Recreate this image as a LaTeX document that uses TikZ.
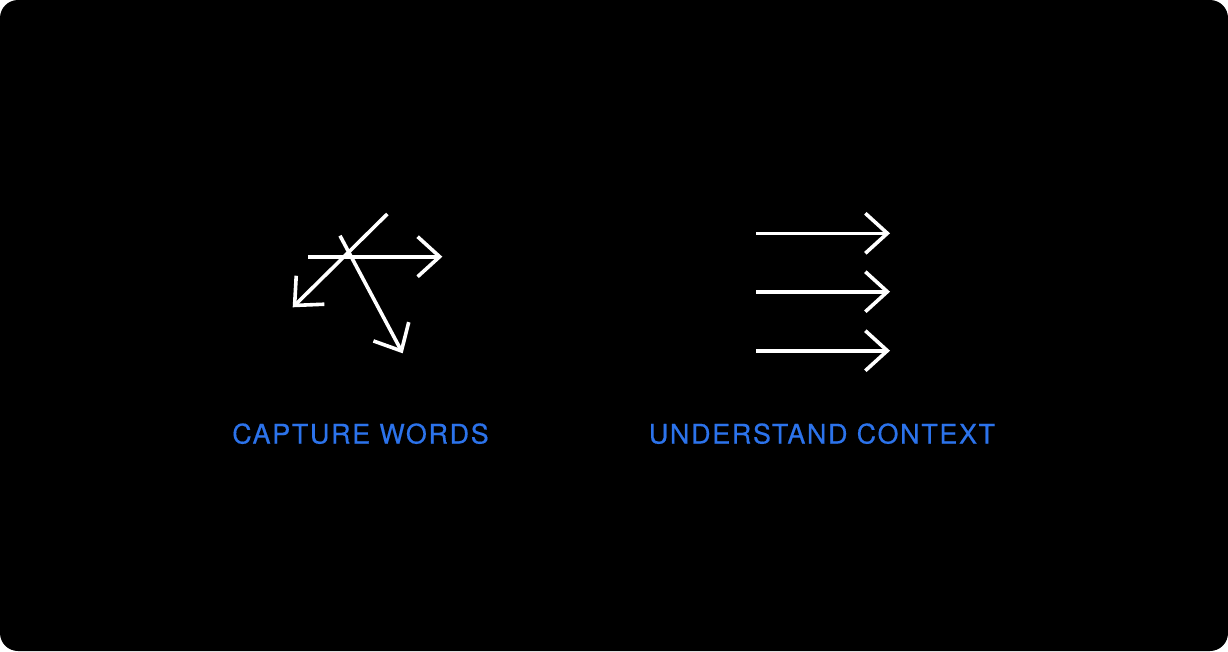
\documentclass[tikz,border=0pt]{standalone}
\usepackage{fontspec}
\setmainfont{TeX Gyre Heros}
\newfontfamily\labelfont[LetterSpace=6,FakeBold=0.4]{TeX Gyre Heros}
\usetikzlibrary{arrows.meta}
\definecolor{labelblue}{RGB}{44,115,235}
\tikzset{
  arr/.style={draw=white, line width=3.6pt, line join=miter,
    -{Straight Barb[length=22pt,width=40pt,line width=3.6pt]}},
  lbl/.style={text=labelblue, anchor=base, inner sep=0pt,
    font=\labelfont\fontsize{27pt}{30pt}\selectfont}
}
\begin{document}
\begin{tikzpicture}[x=1pt,y=-1pt]
\useasboundingbox (0,0) rectangle (1228,651);
\fill[white] (0,0) rectangle (1228,651);
\fill[black, rounded corners=18pt] (0,0) rectangle (1228,651);
% left icon
\coordinate (h1) at (308.3,256.7);
\coordinate (h2) at (442.3,256.7);
\coordinate (d1) at (387.3,214);
\coordinate (d2) at (292.7,307.3);
\coordinate (e1) at (340,235.7);
\coordinate (e2) at (402.7,353.3);
\draw[arr] (h1) -- (h2);
\draw[arr] (d1) -- (d2);
\draw[arr] (e1) -- (e2);
% right icon
\coordinate (r1a) at (756,233.3);
\coordinate (r1b) at (890,233.3);
\coordinate (r2a) at (756,291.7);
\coordinate (r2b) at (890,291.7);
\coordinate (r3a) at (756,350.7);
\coordinate (r3b) at (890,350.7);
\draw[arr] (r1a) -- (r1b);
\draw[arr] (r2a) -- (r2b);
\draw[arr] (r3a) -- (r3b);
% labels
\node[lbl] (capture) at (360.5,443.5) {CAPTURE WORDS};
\node[lbl] (understand) at (822,443.5) {UNDERSTAND CONTEXT};
\end{tikzpicture}
\end{document}
